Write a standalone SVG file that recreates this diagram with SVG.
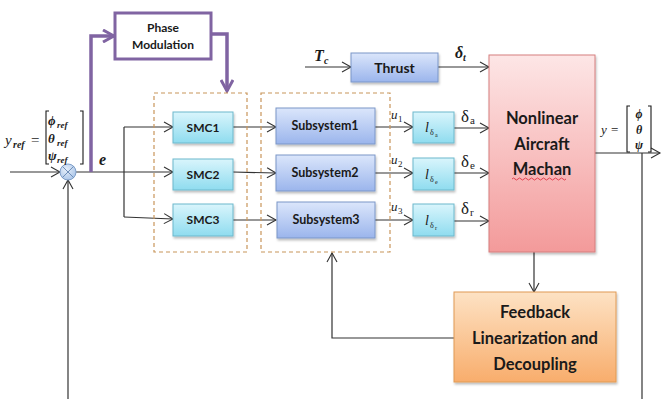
<svg xmlns="http://www.w3.org/2000/svg" width="665" height="399" viewBox="0 0 665 399">
<defs>
  <linearGradient id="gCyan" x1="0" y1="0" x2="0" y2="1">
    <stop offset="0" stop-color="#d9f5fc"/><stop offset="1" stop-color="#8fdcef"/>
  </linearGradient>
  <linearGradient id="gBlue" x1="0" y1="0" x2="0" y2="1">
    <stop offset="0" stop-color="#dbe6fb"/><stop offset="1" stop-color="#9bb5ec"/>
  </linearGradient>
  <linearGradient id="gPink" x1="0" y1="0" x2="0" y2="1">
    <stop offset="0" stop-color="#fde6e6"/><stop offset="1" stop-color="#f39a9a"/>
  </linearGradient>
  <linearGradient id="gOrange" x1="0" y1="0" x2="0" y2="1">
    <stop offset="0" stop-color="#fde2c4"/><stop offset="1" stop-color="#f8ad6c"/>
  </linearGradient>
  <radialGradient id="gSum" cx="0.4" cy="0.35" r="0.7">
    <stop offset="0" stop-color="#e6effa"/><stop offset="1" stop-color="#a9c4e8"/>
  </radialGradient>
  <filter id="shadow" x="-10%" y="-10%" width="130%" height="140%">
    <feDropShadow dx="1" dy="2" stdDeviation="1.2" flood-color="#000" flood-opacity="0.25"/>
  </filter>
  <marker id="arr" markerUnits="userSpaceOnUse" markerWidth="12" markerHeight="12" refX="10" refY="6" orient="auto">
    <path d="M1,1 L10,6 L1,11" fill="none" stroke="#333" stroke-width="1.1"/>
  </marker>
  <marker id="arrP" markerUnits="userSpaceOnUse" markerWidth="14" markerHeight="14" refX="12" refY="7" orient="auto">
    <path d="M1,1 L12,7 L1,13" fill="none" stroke="#8064a2" stroke-width="3"/>
  </marker>
</defs>
<style>
  .ln { fill: none; stroke: #333; stroke-width: 1.2; }
  .pl { fill: none; stroke: #8064a2; stroke-width: 3.5; }
  .dash { fill: none; stroke: #c8955a; stroke-width: 1.2; stroke-dasharray: 4 3; }
  .cyan { fill: url(#gCyan); stroke: #6cb8cc; stroke-width: 1; filter: url(#shadow); }
  .blue { fill: url(#gBlue); stroke: #7b96c8; stroke-width: 1; filter: url(#shadow); }
  .lbl { font-family: Lato, "Open Sans", "Liberation Sans", sans-serif; font-weight: bold; fill: #1a1a1a; text-anchor: middle; }
  .m { font-family: "Liberation Serif", "DejaVu Serif", serif; font-style: italic; fill: #1a1a1a; }
  .mb { font-family: "Liberation Serif", "DejaVu Serif", serif; font-style: italic; font-weight: bold; fill: #1a1a1a; }
  .g { font-family: "Liberation Serif", "DejaVu Serif", serif; fill: #1a1a1a; }
  .br { fill: none; stroke: #1a1a1a; stroke-width: 1.1; }
</style>

<!-- connectors -->
<g id="connectors">
  <line class="ln" x1="10" y1="172" x2="60" y2="172" marker-end="url(#arr)"/>
  <line class="ln" x1="68" y1="399" x2="68" y2="180" marker-end="url(#arr)"/>
  <polyline class="ln" points="76,172 124,172"/>
  <polyline class="ln" points="124,127 124,217"/>
  <line class="ln" x1="124" y1="127" x2="173" y2="127" marker-end="url(#arr)"/>
  <line class="ln" x1="124" y1="172" x2="173" y2="172" marker-end="url(#arr)"/>
  <line class="ln" x1="124" y1="217" x2="173" y2="219" marker-end="url(#arr)"/>
  <line class="ln" x1="233" y1="127" x2="276" y2="127" marker-end="url(#arr)"/>
  <line class="ln" x1="233" y1="172" x2="276" y2="173" marker-end="url(#arr)"/>
  <line class="ln" x1="233" y1="220" x2="276" y2="220" marker-end="url(#arr)"/>
  <line class="ln" x1="375" y1="127" x2="413" y2="127" marker-end="url(#arr)"/>
  <line class="ln" x1="375" y1="173" x2="413" y2="173" marker-end="url(#arr)"/>
  <line class="ln" x1="375" y1="220" x2="413" y2="220" marker-end="url(#arr)"/>
  <line class="ln" x1="454" y1="128" x2="489" y2="128" marker-end="url(#arr)"/>
  <line class="ln" x1="454" y1="173" x2="489" y2="173" marker-end="url(#arr)"/>
  <line class="ln" x1="454" y1="221" x2="489" y2="221" marker-end="url(#arr)"/>
  <line class="ln" x1="305" y1="67" x2="351" y2="67" marker-end="url(#arr)"/>
  <line class="ln" x1="438" y1="67" x2="489" y2="67" marker-end="url(#arr)"/>
  <line class="ln" x1="595" y1="153" x2="660" y2="153" marker-end="url(#arr)"/>
  <line class="ln" x1="642" y1="153" x2="642" y2="399"/>
  <line class="ln" x1="534" y1="252" x2="534" y2="292" marker-end="url(#arr)"/>
  <polyline class="ln" points="454,338 332,338 332,253" marker-end="url(#arr)"/>
  <polyline class="pl" points="91,172 91,36 114,36" marker-end="url(#arrP)"/>
  <polyline class="pl" points="211,34 227,34 227,91" marker-end="url(#arrP)"/>
</g>

<!-- summing junction -->
<g id="sum">
  <circle cx="68" cy="172" r="8" fill="url(#gSum)" stroke="#7f9fc9" stroke-width="1"/>
  <path d="M62.3,166.3 L73.7,177.7 M73.7,166.3 L62.3,177.7" stroke="#6f8fb9" stroke-width="1"/>
</g>

<!-- reference and error labels -->
<g id="ref-label">
  <text class="m" x="5" y="145" font-size="15">y</text>
  <text class="m" x="13" y="148" font-size="10" font-weight="bold">ref</text>
  <text class="g" x="31" y="145" font-size="15">=</text>
  <path class="br" d="M49,111 L46,111 L46,164 L49,164"/>
  <path class="br" d="M80,111 L83,111 L83,164 L80,164"/>
  <text class="m" x="48" y="125" font-size="13" font-weight="bold">ϕ</text>
  <text class="m" x="57" y="128" font-size="9" font-weight="bold">ref</text>
  <text class="m" x="48" y="143" font-size="13" font-weight="bold">θ</text>
  <text class="m" x="57" y="146" font-size="9" font-weight="bold">ref</text>
  <text class="m" x="48" y="160" font-size="13" font-weight="bold">ψ</text>
  <text class="m" x="57" y="163" font-size="9" font-weight="bold">ref</text>
  <text class="mb" x="99" y="165" font-size="16">e</text>
</g>

<!-- phase modulation -->
<g id="phase-modulation">
  <rect x="115" y="13" width="96" height="46" fill="#fff" stroke="#8064a2" stroke-width="3"/>
  <text class="lbl" x="163" y="32" font-size="12">Phase</text>
  <text class="lbl" x="163" y="49" font-size="12">Modulation</text>
</g>

<!-- controller group -->
<g id="smc-group">
  <rect class="dash" x="154" y="93" width="93" height="159"/>
</g>
<g id="smc1"><rect class="cyan" x="173" y="112" width="60" height="31"/><text class="lbl" x="203" y="132" font-size="12">SMC1</text></g>
<g id="smc2"><rect class="cyan" x="173" y="159" width="60" height="31"/><text class="lbl" x="203" y="179" font-size="12">SMC2</text></g>
<g id="smc3"><rect class="cyan" x="173" y="204" width="60" height="32"/><text class="lbl" x="203" y="224" font-size="12">SMC3</text></g>

<!-- subsystem group -->
<g id="subsystem-group">
  <rect class="dash" x="261" y="93" width="129" height="159"/>
</g>
<g id="subsystem1"><rect class="blue" x="276" y="108" width="99" height="36"/><text class="lbl" x="325" y="130" font-size="12.5">Subsystem1</text></g>
<g id="subsystem2"><rect class="blue" x="276" y="155" width="99" height="36"/><text class="lbl" x="325" y="177" font-size="12.5">Subsystem2</text></g>
<g id="subsystem3"><rect class="blue" x="277" y="202" width="98" height="36"/><text class="lbl" x="326" y="224" font-size="12.5">Subsystem3</text></g>

<!-- u labels -->
<g id="u-labels">
  <text class="m" x="391" y="119" font-size="13">u</text><text class="g" x="398" y="122" font-size="9">1</text>
  <text class="m" x="391" y="164" font-size="13">u</text><text class="g" x="398" y="167" font-size="9">2</text>
  <text class="m" x="391" y="211" font-size="13">u</text><text class="g" x="398" y="214" font-size="9">3</text>
</g>

<!-- actuator blocks -->
<g id="l-a"><rect class="cyan" x="413" y="112" width="41" height="31"/><text class="m" x="425" y="132" font-size="14">l</text><text class="g" x="430" y="135" font-size="8">δ</text><text class="g" x="435" y="137" font-size="6">a</text></g>
<g id="l-e"><rect class="cyan" x="413" y="158" width="41" height="32"/><text class="m" x="425" y="179" font-size="14">l</text><text class="g" x="430" y="182" font-size="8">δ</text><text class="g" x="435" y="184" font-size="6">e</text></g>
<g id="l-r"><rect class="cyan" x="413" y="204" width="41" height="32"/><text class="m" x="425" y="225" font-size="14">l</text><text class="g" x="430" y="228" font-size="8">δ</text><text class="g" x="435" y="230" font-size="6">r</text></g>

<!-- delta labels -->
<g id="delta-labels">
  <text class="g" x="461" y="122" font-size="17">δ</text><text class="g" x="470" y="124" font-size="11">a</text>
  <text class="g" x="461" y="167" font-size="17">δ</text><text class="g" x="470" y="169" font-size="11">e</text>
  <text class="g" x="461" y="214" font-size="17">δ</text><text class="g" x="470" y="216" font-size="11">r</text>
  <text class="m" x="455" y="58" font-size="16" font-weight="bold">δ</text><text class="m" x="463" y="61" font-size="10" font-weight="bold">t</text>
  <text class="m" x="314" y="61" font-size="16" font-weight="bold">T</text><text class="m" x="324" y="64" font-size="10" font-weight="bold">c</text>
</g>

<!-- thrust -->
<g id="thrust">
  <rect class="blue" x="351" y="53" width="87" height="29"/>
  <text class="lbl" x="394.5" y="73" font-size="14">Thrust</text>
</g>

<!-- aircraft model -->
<g id="aircraft">
  <rect x="489" y="55" width="106" height="197" fill="url(#gPink)" stroke="#d57f7f" stroke-width="1" filter="url(#shadow)"/>
  <text class="lbl" x="542" y="124" font-size="16.5">Nonlinear</text>
  <text class="lbl" x="542" y="150" font-size="16.5">Aircraft</text>
  <text class="lbl" x="542" y="175" font-size="16.5">Machan</text>
  <path d="M512,179 q1.5,-2 3,0 t3,0 t3,0 t3,0 t3,0 t3,0 t3,0 t3,0 t3,0 t3,0 t3,0 t3,0 t3,0 t3,0 t3,0 t3,0 t3,0 t3,0" fill="none" stroke="#d23" stroke-width="0.8"/>
</g>

<!-- output label -->
<g id="output-label">
  <text class="m" x="601" y="134" font-size="13">y</text>
  <text class="g" x="611" y="134" font-size="13">=</text>
  <path class="br" d="M630,106 L627,106 L627,152 L630,152"/>
  <path class="br" d="M648,106 L651,106 L651,152 L648,152"/>
  <text class="mb" x="639" y="118" font-size="12" text-anchor="middle">ϕ</text>
  <text class="mb" x="639" y="134" font-size="12" text-anchor="middle">θ</text>
  <text class="mb" x="639" y="149" font-size="12" text-anchor="middle">ψ</text>
</g>

<!-- feedback linearization -->
<g id="feedback">
  <rect x="454" y="292" width="162" height="90" fill="url(#gOrange)" stroke="#e09a55" stroke-width="1" filter="url(#shadow)"/>
  <text class="lbl" x="535" y="318" font-size="16.5">Feedback</text>
  <text class="lbl" x="535" y="344" font-size="16.5">Linearization and</text>
  <text class="lbl" x="535" y="370" font-size="16.5">Decoupling</text>
</g>
</svg>
